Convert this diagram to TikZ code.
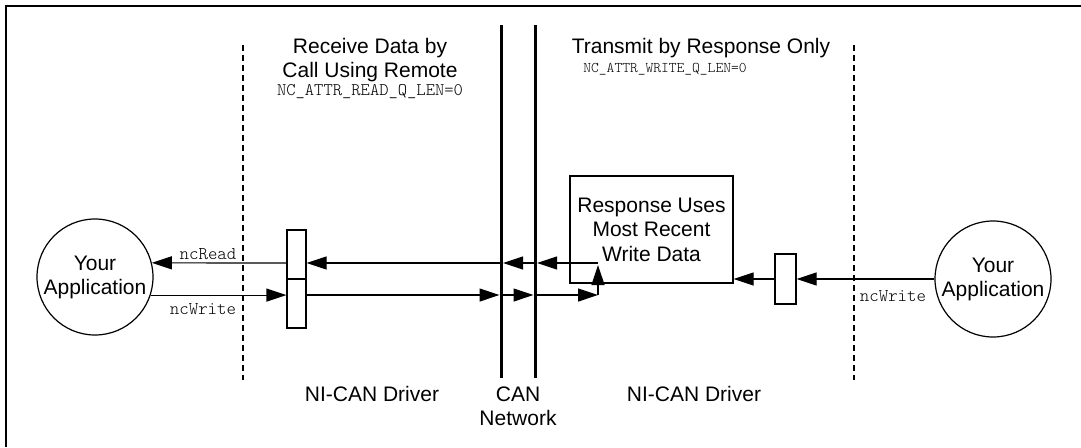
\documentclass[tikz,border=0pt]{standalone}
\usepackage{fontspec}
\setmainfont{Liberation Sans}
\setmonofont{Latin Modern Mono Light}
\usetikzlibrary{arrows.meta,calc}
\begin{document}
\begin{tikzpicture}[x=1pt,y=-1pt,
  arr/.style={line width=1.2pt,-{Triangle[length=20pt,width=13pt]}},
  app/.style={circle,draw,line width=1.2pt,minimum size=116pt,inner sep=0pt,font=\fontsize{21}{24}\selectfont,align=center},
  qbox/.style={draw,line width=1.2pt,inner sep=0pt,minimum width=19pt,minimum height=49pt},
  respbox/.style={draw,line width=1.2pt,inner sep=0pt,minimum width=163pt,minimum height=107pt,font=\fontsize{21}{24.5}\selectfont,align=center},
  lbl/.style={font=\fontsize{21}{24}\selectfont,align=center,inner sep=0pt},
  mono/.style={font=\ttfamily\fontsize{14.8}{17}\selectfont,inner sep=0pt},
  sig/.style={font=\ttfamily\fontsize{18}{20}\selectfont,inner sep=0pt},
  sep/.style={line width=1.1pt,dash pattern=on 6pt off 4pt},
  can/.style={line width=3pt}
]
\useasboundingbox (0,0) rectangle (1081,447);
% frame
\draw[line width=2.5pt] (6,447) -- (6,6) -- (1081,6);

% separators
\coordinate (dL1) at (243,45); \coordinate (dL2) at (243,380);
\coordinate (dR1) at (854,45); \coordinate (dR2) at (854,380);
\draw[sep] (dL1) -- (dL2);
\draw[sep] (dR1) -- (dR2);

% CAN lines
\coordinate (c1t) at (501,25); \coordinate (c1b) at (501,378);
\coordinate (c2t) at (535,25); \coordinate (c2b) at (535,378);
\draw[can] (c1t) -- (c1b);
\draw[can] (c2t) -- (c2b);

% nodes
\node[app] (appL) at (95,277) {Your\\Application};
\node[app] (appR) at (993,279) {Your\\Application};
\node[qbox] (qRtop) at (296.5,254.5) {};
\node[qbox] (qRbot) at (296.5,303.5) {};
\node[respbox] (resp) at (651.5,229.5) {Response Uses\\Most Recent\\Write Data};
\node[qbox,minimum width=21pt,minimum height=50pt] (qW) at (785.5,279) {};

% titles
\node[lbl] (t1) at (370,60) {Receive Data by\\Call Using Remote};
\node[mono,font=\ttfamily\fontsize{17.7}{20}\selectfont] (m1) at (370,92) {NC\_ATTR\_READ\_Q\_LEN=0};
\node[lbl] (t2) at (701,48) {Transmit by Response Only};
\node[mono] (m2) at (665,69) {NC\_ATTR\_WRITE\_Q\_LEN=0};

% bottom labels
\node[lbl] (b1) at (372,394) {NI-CAN Driver};
\node[lbl] (b2) at (518,406) {CAN\\Network};
\node[lbl] (b3) at (694,394) {NI-CAN Driver};

% signal labels
\node[sig] (s1) at (208,254) {ncRead};
\node[sig] (s2) at (203,309) {ncWrite};
\node[sig] (s3) at (893,296) {ncWrite};

% connector points
\coordinate (a1) at (503,263);
\coordinate (a2) at (537,263);
\coordinate (bb1) at (499.5,295);
\coordinate (bb2) at (533.5,295);
\coordinate (turn) at (598,295);
\coordinate (topc) at (598,263);
\coordinate (uptip) at (598,265);

% left arrows
\draw[arr] (topc) -- (a2);
\draw[arr] (a2) -- (a1);
\draw[arr] (a1) -- (a1 -| qRtop.east);
\draw[arr] (qRtop.west |- a1) -- (appL.14);
\draw[arr] (appL.-18) -- (appL.-18 -| qRbot.west);
\draw[arr] (qRbot.east |- bb1) -- (bb1);
\draw[arr] (bb1) -- (bb2);
\draw[arr] (bb2) -- (turn);
\draw[arr] (turn) -- (uptip);

% right arrows
\draw[arr] (appR.west |- qW) -- (qW.east);
\draw[arr] (qW.west) -- (qW.west -| resp.east);
\end{tikzpicture}
\end{document}
